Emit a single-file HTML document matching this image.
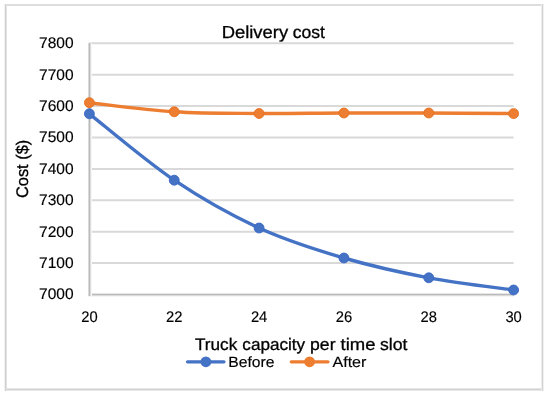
<!DOCTYPE html><html><head><meta charset="utf-8"><style>html,body{margin:0;padding:0;background:#fff;width:550px;height:395px;overflow:hidden}svg{display:block;will-change:transform}text{font-family:"Liberation Sans",sans-serif;text-rendering:geometricPrecision;fill:#000;stroke:#000;stroke-width:0.15px}.tt{stroke-width:0.3px}</style></head><body>
<svg width="550" height="395" viewBox="0 0 550 395">
<rect x="0" y="0" width="550" height="395" fill="#fff"/>
<g shape-rendering="crispEdges">
<rect x="5" y="4" width="538" height="1" fill="#DDDDDD"/>
<rect x="5" y="5" width="538" height="1" fill="#DDDDDD"/>
<rect x="4" y="388" width="540" height="1" fill="#E6E6E6"/>
<rect x="4" y="389" width="540" height="1" fill="#D2D2D2"/>
<rect x="4" y="390" width="540" height="1" fill="#E8E8E8"/>
<rect x="4" y="4" width="1" height="387" fill="#F2F2F2"/>
<rect x="5" y="4" width="1" height="387" fill="#D0D0D0"/>
<rect x="6" y="4" width="1" height="387" fill="#E2E2E2"/>
<rect x="541" y="4" width="1" height="387" fill="#ECECEC"/>
<rect x="542" y="4" width="1" height="387" fill="#D4D4D4"/>
<rect x="543" y="4" width="1" height="387" fill="#F0F0F0"/>
</g>
<line x1="89.4" y1="43.3" x2="513.6" y2="43.3" stroke="#D9D9D9" stroke-width="2"/>
<line x1="89.4" y1="74.7" x2="513.6" y2="74.7" stroke="#D9D9D9" stroke-width="2"/>
<line x1="89.4" y1="106.1" x2="513.6" y2="106.1" stroke="#D9D9D9" stroke-width="2"/>
<line x1="89.4" y1="137.5" x2="513.6" y2="137.5" stroke="#D9D9D9" stroke-width="2"/>
<line x1="89.4" y1="168.9" x2="513.6" y2="168.9" stroke="#D9D9D9" stroke-width="2"/>
<line x1="89.4" y1="200.3" x2="513.6" y2="200.3" stroke="#D9D9D9" stroke-width="2"/>
<line x1="89.4" y1="231.7" x2="513.6" y2="231.7" stroke="#D9D9D9" stroke-width="2"/>
<line x1="89.4" y1="263.1" x2="513.6" y2="263.1" stroke="#D9D9D9" stroke-width="2"/>
<g shape-rendering="crispEdges">
<rect x="88" y="293" width="425.6" height="1" fill="#E6E6E6"/>
<rect x="88" y="294" width="425.6" height="1" fill="#BABABA"/>
<rect x="88" y="295" width="425.6" height="1" fill="#DADADA"/>
<rect x="88" y="296" width="425.6" height="1" fill="#F6F6F6"/>
<rect x="88" y="42.5" width="1" height="253.5" fill="#DADADA"/>
<rect x="89" y="42.5" width="1" height="253.5" fill="#BABABA"/>
<rect x="90" y="42.5" width="1" height="253.5" fill="#DEDEDE"/>
<rect x="91" y="42.5" width="1" height="253.5" fill="#F6F6F6"/>
</g>
<text x="73.6" y="48.15" font-size="15.4" text-anchor="end" textLength="34.6" lengthAdjust="spacingAndGlyphs">7800</text>
<text x="73.6" y="79.55" font-size="15.4" text-anchor="end" textLength="34.6" lengthAdjust="spacingAndGlyphs">7700</text>
<text x="73.6" y="110.95" font-size="15.4" text-anchor="end" textLength="34.6" lengthAdjust="spacingAndGlyphs">7600</text>
<text x="73.6" y="142.35" font-size="15.4" text-anchor="end" textLength="34.6" lengthAdjust="spacingAndGlyphs">7500</text>
<text x="73.6" y="173.75" font-size="15.4" text-anchor="end" textLength="34.6" lengthAdjust="spacingAndGlyphs">7400</text>
<text x="73.6" y="205.15" font-size="15.4" text-anchor="end" textLength="34.6" lengthAdjust="spacingAndGlyphs">7300</text>
<text x="73.6" y="236.55" font-size="15.4" text-anchor="end" textLength="34.6" lengthAdjust="spacingAndGlyphs">7200</text>
<text x="73.6" y="267.95" font-size="15.4" text-anchor="end" textLength="34.6" lengthAdjust="spacingAndGlyphs">7100</text>
<text x="73.6" y="299.35" font-size="15.4" text-anchor="end" textLength="34.6" lengthAdjust="spacingAndGlyphs">7000</text>
<text x="89.4" y="321.6" font-size="15.4" text-anchor="middle" textLength="16.4" lengthAdjust="spacingAndGlyphs">20</text>
<text x="174.24" y="321.6" font-size="15.4" text-anchor="middle" textLength="16.4" lengthAdjust="spacingAndGlyphs">22</text>
<text x="259.08" y="321.6" font-size="15.4" text-anchor="middle" textLength="16.4" lengthAdjust="spacingAndGlyphs">24</text>
<text x="343.92" y="321.6" font-size="15.4" text-anchor="middle" textLength="16.4" lengthAdjust="spacingAndGlyphs">26</text>
<text x="428.76" y="321.6" font-size="15.4" text-anchor="middle" textLength="16.4" lengthAdjust="spacingAndGlyphs">28</text>
<text x="513.6" y="321.6" font-size="15.4" text-anchor="middle" textLength="16.4" lengthAdjust="spacingAndGlyphs">30</text>
<text class="tt" x="221.66" y="37.9" font-size="17.4" textLength="66.5" lengthAdjust="spacingAndGlyphs">Delivery</text>
<text class="tt" x="292.71" y="37.9" font-size="17.4" textLength="32.23" lengthAdjust="spacingAndGlyphs">cost</text>
<text class="tt" x="195.02" y="349.9" font-size="16.8" textLength="42.27" lengthAdjust="spacingAndGlyphs">Truck</text>
<text class="tt" x="242.33" y="349.9" font-size="16.8" textLength="62.74" lengthAdjust="spacingAndGlyphs">capacity</text>
<text class="tt" x="310.04" y="349.9" font-size="16.8" textLength="25.48" lengthAdjust="spacingAndGlyphs">per</text>
<text class="tt" x="340.63" y="349.9" font-size="16.8" textLength="34.91" lengthAdjust="spacingAndGlyphs">time</text>
<text class="tt" x="379.94" y="349.9" font-size="16.8" textLength="27.51" lengthAdjust="spacingAndGlyphs">slot</text>
<text class="tt" transform="translate(27.5,168.9) rotate(-90)" x="0" y="0" font-size="16.8" text-anchor="middle" textLength="58.4" lengthAdjust="spacingAndGlyphs">Cost ($)</text>
<path d="M89.4,102.7 C103.54,104.22 145.96,110 174.24,111.8 C202.52,113.6 230.8,113.3 259.08,113.5 C287.36,113.7 315.64,113.08 343.92,113 C372.2,112.92 400.48,112.9 428.76,113 C457.04,113.1 499.46,113.5 513.6,113.6" fill="none" stroke="#ED7D31" stroke-width="3.4" stroke-linecap="round" stroke-linejoin="round"/>
<circle cx="89.4" cy="102.7" r="4.95" fill="#ED7D31" stroke="#E4701E" stroke-width="0.9"/>
<circle cx="174.24" cy="111.8" r="4.95" fill="#ED7D31" stroke="#E4701E" stroke-width="0.9"/>
<circle cx="259.08" cy="113.5" r="4.95" fill="#ED7D31" stroke="#E4701E" stroke-width="0.9"/>
<circle cx="343.92" cy="113" r="4.95" fill="#ED7D31" stroke="#E4701E" stroke-width="0.9"/>
<circle cx="428.76" cy="113" r="4.95" fill="#ED7D31" stroke="#E4701E" stroke-width="0.9"/>
<circle cx="513.6" cy="113.6" r="4.95" fill="#ED7D31" stroke="#E4701E" stroke-width="0.9"/>
<path d="M89.4,113.8 C103.54,124.87 145.96,161.17 174.24,180.2 C202.52,199.23 230.8,215.03 259.08,228 C287.36,240.97 315.64,249.7 343.92,258 C372.2,266.3 400.48,272.47 428.76,277.8 C457.04,283.13 499.46,287.97 513.6,290" fill="none" stroke="#4472C4" stroke-width="3.4" stroke-linecap="round" stroke-linejoin="round"/>
<circle cx="89.4" cy="113.8" r="4.95" fill="#4472C4" stroke="#3B68C4" stroke-width="0.9"/>
<circle cx="174.24" cy="180.2" r="4.95" fill="#4472C4" stroke="#3B68C4" stroke-width="0.9"/>
<circle cx="259.08" cy="228" r="4.95" fill="#4472C4" stroke="#3B68C4" stroke-width="0.9"/>
<circle cx="343.92" cy="258" r="4.95" fill="#4472C4" stroke="#3B68C4" stroke-width="0.9"/>
<circle cx="428.76" cy="277.8" r="4.95" fill="#4472C4" stroke="#3B68C4" stroke-width="0.9"/>
<circle cx="513.6" cy="290" r="4.95" fill="#4472C4" stroke="#3B68C4" stroke-width="0.9"/>
<line x1="187.5" y1="361.8" x2="224" y2="361.8" stroke="#4472C4" stroke-width="3.2" stroke-linecap="round"/>
<circle cx="205.9" cy="361.8" r="5.4" fill="#4472C4"/>
<text x="228.22" y="366.6" font-size="14.9" textLength="46.28" lengthAdjust="spacingAndGlyphs">Before</text>
<line x1="291.3" y1="361.8" x2="328" y2="361.8" stroke="#ED7D31" stroke-width="3.2" stroke-linecap="round"/>
<circle cx="309.6" cy="361.8" r="5.4" fill="#ED7D31"/>
<text x="332.46" y="366.6" font-size="14.9" textLength="33.93" lengthAdjust="spacingAndGlyphs">After</text>
</svg></body></html>
